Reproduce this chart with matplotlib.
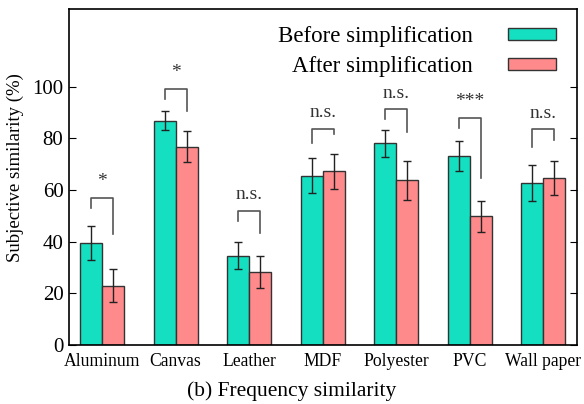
import matplotlib.pyplot as plt
import numpy as np

plt.rcParams['font.family'] = ['Liberation Serif', 'DejaVu Serif']

materials = ["Aluminum", "Canvas", "Leather", "MDF", "Polyester", "PVC", "Wall paper"]
before = [39.4, 86.7, 34.6, 65.5, 78.1, 73.2, 62.7]
before_err = [6.6, 3.7, 5.1, 6.7, 5.2, 5.9, 7.0]
after = [23.0, 76.7, 28.3, 67.2, 63.7, 49.8, 64.6]
after_err = [6.5, 6.0, 6.1, 6.8, 7.5, 6.0, 6.6]

# significance brackets: top, left-leg end, right-leg end, label
br_top = [56.9, 99.2, 51.9, 83.5, 91.2, 87.9, 83.4]
br_left = [53.0, 95.1, 47.9, 78.1, 87.3, 83.9, 76.6]
br_right = [43.1, 90.7, 43.5, 81.7, 82.4, 64.7, 79.4]
signif = ["*", "*", "n.s.", "n.s.", "n.s.", "***", "n.s."]

teal = "#14DFC0"
pink = "#FF8A8C"

fig = plt.figure(figsize=(5.84, 4.04), dpi=100)
ax = fig.add_axes([69 / 584, 1 - 345 / 404, 508 / 584, 336 / 404])

x = np.arange(len(materials))
w = 0.3
ax.bar(x - w / 2, before, w, color=teal, edgecolor="#333333", linewidth=1.0,
       yerr=before_err, capsize=3, error_kw=dict(elinewidth=1, capthick=1, ecolor="#222222"),
       label="Before simplification")
ax.bar(x + w / 2, after, w, color=pink, edgecolor="#333333", linewidth=1.0,
       yerr=after_err, capsize=3, error_kw=dict(elinewidth=1, capthick=1, ecolor="#222222"),
       label="After simplification")

for i in range(len(materials)):
    xl, xr = x[i] - w / 2, x[i] + w / 2
    ax.plot([xl, xl, xr, xr], [br_left[i], br_top[i], br_top[i], br_right[i]],
            color="#555555", linewidth=1.2)
    ax.text(x[i], br_top[i] + 3.0, signif[i], ha="center", va="bottom",
            fontsize=14, color="#333333")

ax.set_xlim(-0.45, 6.46)
ax.set_ylim(0, 130)
ax.set_yticks([0, 20, 40, 60, 80, 100])
ax.set_xticks(x)
ax.set_xticklabels(materials, fontsize=12.7)
ax.tick_params(axis="y", direction="in", right=True, labelsize=15, length=5, pad=4)
ax.tick_params(axis="x", length=0, pad=6)
for s in ax.spines.values():
    s.set_linewidth(1.2)

ax.set_ylabel("Subjective similarity (%)", fontsize=13.5)
ax.yaxis.set_label_coords(-0.088, 0.528)
ax.set_xlabel("(b) Frequency similarity", fontsize=15.5)
ax.xaxis.set_label_coords((292 - 69) / 508, -0.108)

ax.legend(loc="upper right", frameon=False, markerfirst=False, fontsize=16.5,
          handlelength=2.1, handleheight=0.43, labelspacing=0.4,
          bbox_to_anchor=(0.985, 0.99), handletextpad=1.5, borderaxespad=0.2)

fig.savefig("out.png", dpi=100)
